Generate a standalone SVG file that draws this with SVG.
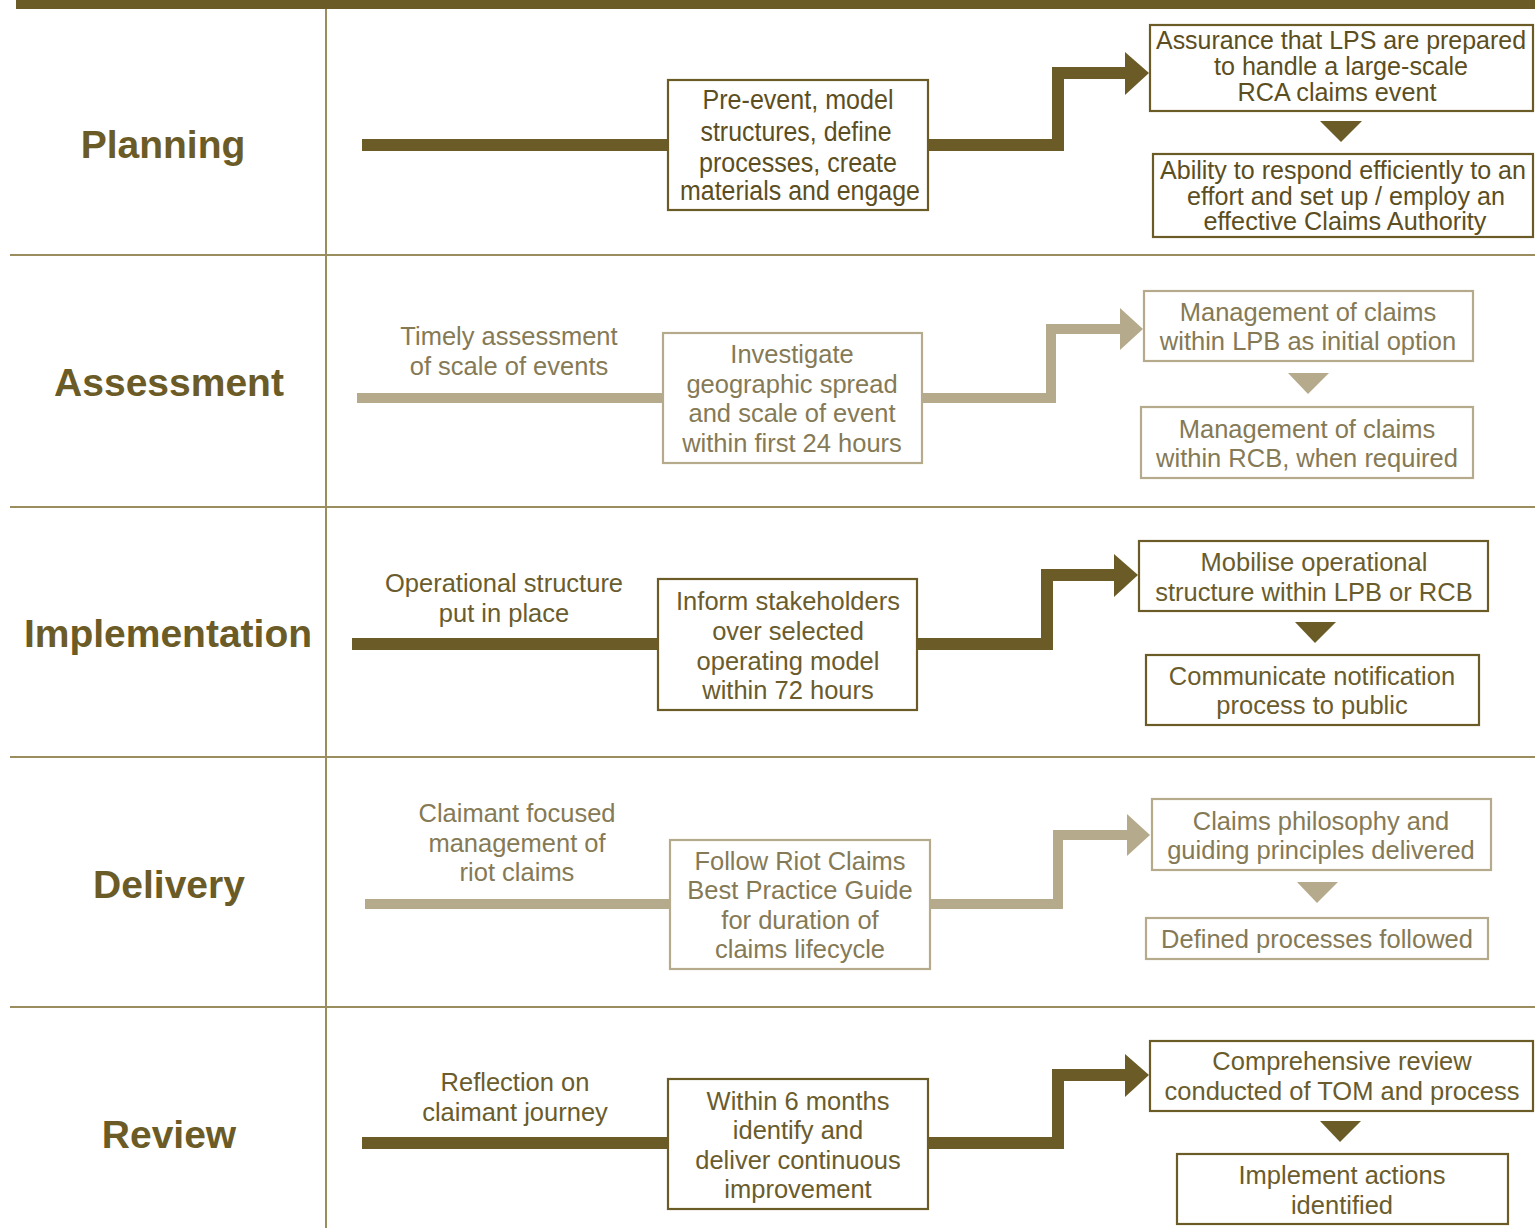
<svg xmlns="http://www.w3.org/2000/svg" width="1535" height="1228" viewBox="0 0 1535 1228">
<style>
.bg{fill:#ffffff}
.rule{stroke:#9a8d5e;stroke-width:2;fill:none}
.lab{font-family:"Liberation Sans",Arial,sans-serif;font-weight:bold;font-size:39px;fill:#6b5b26;text-anchor:middle}
.t{font-family:"Liberation Sans",Arial,sans-serif;font-size:25.5px;text-anchor:middle}
.tn{font-family:"Liberation Sans",Arial,sans-serif;font-size:25px;text-anchor:middle;fill:#5c4e1e}
.tb{font-family:"Liberation Sans",Arial,sans-serif;font-size:27px;text-anchor:middle;fill:#5c4e1e}
.dk{fill:#6a5c2c}
.lt{fill:#857a55}
.bd{fill:#ffffff;stroke:#6b5b26;stroke-width:2.2}
.bl{fill:#ffffff;stroke:#b5ab8c;stroke-width:2.2}
.cd{fill:none;stroke:#6b5b26;stroke-width:12;stroke-linejoin:miter}
.cl{fill:none;stroke:#b5ab8c;stroke-width:10;stroke-linejoin:miter}
.hd{fill:#6b5b26}
.hl{fill:#b5ab8c}
</style>
<rect class="bg" x="0" y="0" width="1535" height="1228"/>
<g id="frame">
<rect x="16" y="0" width="1519" height="9" fill="#6b5b26"/>
<line class="rule" x1="326" y1="9" x2="326" y2="1228"/>
<line class="rule" x1="10" y1="255" x2="1535" y2="255"/>
<line class="rule" x1="10" y1="507" x2="1535" y2="507"/>
<line class="rule" x1="10" y1="757" x2="1535" y2="757"/>
<line class="rule" x1="10" y1="1007" x2="1535" y2="1007"/>
</g>
<g id="row-labels">
<text class="lab" x="163" y="158">Planning</text>
<text class="lab" x="169" y="396">Assessment</text>
<text class="lab" x="168" y="647">Implementation</text>
<text class="lab" x="169" y="898">Delivery</text>
<text class="lab" x="169" y="1148">Review</text>
</g>
<g id="connectors">
<polyline class="cd" points="362,145 668,145"/>
<polyline class="cd" points="928,145 1058,145 1058,73 1127,73"/>
<polygon class="hd" points="1125,52 1149,73 1125,95"/>
<polygon class="hd" points="1320,121 1362,121 1341,142"/>
<polyline class="cl" points="357,398 663,398"/>
<polyline class="cl" points="922,398 1051,398 1051,329 1122,329"/>
<polygon class="hl" points="1120,308 1143,329 1120,350"/>
<polygon class="hl" points="1288,373 1329,373 1308,394"/>
<polyline class="cd" points="352,644 658,644"/>
<polyline class="cd" points="917,644 1047,644 1047,575 1116,575"/>
<polygon class="hd" points="1114,554 1138,575 1114,597"/>
<polygon class="hd" points="1295,622 1336,622 1315,643"/>
<polyline class="cl" points="365,904 670,904"/>
<polyline class="cl" points="930,904 1058,904 1058,835 1129,835"/>
<polygon class="hl" points="1127,814 1150,835 1127,856"/>
<polygon class="hl" points="1297,882 1338,882 1317,903"/>
<polyline class="cd" points="362,1143 668,1143"/>
<polyline class="cd" points="928,1143 1058,1143 1058,1075 1127,1075"/>
<polygon class="hd" points="1125,1054 1149,1075 1125,1097"/>
<polygon class="hd" points="1320,1121 1361,1121 1340,1142"/>
</g>
<g id="planning-main">
<rect class="bd" x="668" y="80" width="260" height="130"/>
<text class="tb" x="798" y="109" textLength="191" lengthAdjust="spacingAndGlyphs">Pre-event, model</text>
<text class="tb" x="796" y="141" textLength="191" lengthAdjust="spacingAndGlyphs">structures, define</text>
<text class="tb" x="798" y="172" textLength="198" lengthAdjust="spacingAndGlyphs">processes, create</text>
<text class="tb" x="800" y="200" textLength="240" lengthAdjust="spacingAndGlyphs">materials and engage</text>
</g>
<g id="planning-out1">
<rect class="bd" x="1150" y="25" width="383" height="86"/>
<text class="tn" x="1341" y="49" textLength="370" lengthAdjust="spacingAndGlyphs">Assurance that LPS are prepared</text>
<text class="tn" x="1341" y="75" textLength="254" lengthAdjust="spacingAndGlyphs">to handle a large-scale</text>
<text class="tn" x="1337" y="101" textLength="199" lengthAdjust="spacingAndGlyphs">RCA claims event</text>
</g>
<g id="planning-out2">
<rect class="bd" x="1153" y="154" width="380" height="83"/>
<text class="tn" x="1343" y="179" textLength="366" lengthAdjust="spacingAndGlyphs">Ability to respond efficiently to an</text>
<text class="tn" x="1346" y="205" textLength="318" lengthAdjust="spacingAndGlyphs">effort and set up / employ an</text>
<text class="tn" x="1345" y="230" textLength="283" lengthAdjust="spacingAndGlyphs">effective Claims Authority</text>
</g>
<g id="assessment-note">
<text class="t lt" x="509" y="345">Timely assessment</text>
<text class="t lt" x="509" y="375">of scale of events</text>
</g>
<g id="assessment-main">
<rect class="bl" x="663" y="333" width="259" height="130"/>
<text class="t lt" x="792" y="363">Investigate</text>
<text class="t lt" x="792" y="393">geographic spread</text>
<text class="t lt" x="792" y="422">and scale of event</text>
<text class="t lt" x="792" y="452">within first 24 hours</text>
</g>
<g id="assessment-out1">
<rect class="bl" x="1144" y="291" width="329" height="70"/>
<text class="t lt" x="1308" y="321">Management of claims</text>
<text class="t lt" x="1308" y="350">within LPB as initial option</text>
</g>
<g id="assessment-out2">
<rect class="bl" x="1141" y="407" width="332" height="71"/>
<text class="t lt" x="1307" y="438">Management of claims</text>
<text class="t lt" x="1307" y="467">within RCB, when required</text>
</g>
<g id="implementation-note">
<text class="t dk" x="504" y="592">Operational structure</text>
<text class="t dk" x="504" y="622">put in place</text>
</g>
<g id="implementation-main">
<rect class="bd" x="658" y="579" width="259" height="131"/>
<text class="t dk" x="788" y="610">Inform stakeholders</text>
<text class="t dk" x="788" y="640">over selected</text>
<text class="t dk" x="788" y="670">operating model</text>
<text class="t dk" x="788" y="699">within 72 hours</text>
</g>
<g id="implementation-out1">
<rect class="bd" x="1139" y="541" width="349" height="70"/>
<text class="t dk" x="1314" y="571">Mobilise operational</text>
<text class="t dk" x="1314" y="601">structure within LPB or RCB</text>
</g>
<g id="implementation-out2">
<rect class="bd" x="1146" y="655" width="333" height="70"/>
<text class="t dk" x="1312" y="685">Communicate notification</text>
<text class="t dk" x="1312" y="714">process to public</text>
</g>
<g id="delivery-note">
<text class="t lt" x="517" y="822">Claimant focused</text>
<text class="t lt" x="517" y="852">management of</text>
<text class="t lt" x="517" y="881">riot claims</text>
</g>
<g id="delivery-main">
<rect class="bl" x="670" y="840" width="260" height="129"/>
<text class="t lt" x="800" y="870">Follow Riot Claims</text>
<text class="t lt" x="800" y="899">Best Practice Guide</text>
<text class="t lt" x="800" y="929">for duration of</text>
<text class="t lt" x="800" y="958">claims lifecycle</text>
</g>
<g id="delivery-out1">
<rect class="bl" x="1152" y="799" width="339" height="71"/>
<text class="t lt" x="1321" y="830">Claims philosophy and</text>
<text class="t lt" x="1321" y="859">guiding principles delivered</text>
</g>
<g id="delivery-out2">
<rect class="bl" x="1146" y="918" width="342" height="41"/>
<text class="t lt" x="1317" y="948">Defined processes followed</text>
</g>
<g id="review-note">
<text class="t dk" x="515" y="1091">Reflection on</text>
<text class="t dk" x="515" y="1121">claimant journey</text>
</g>
<g id="review-main">
<rect class="bd" x="668" y="1079" width="260" height="130"/>
<text class="t dk" x="798" y="1110">Within 6 months</text>
<text class="t dk" x="798" y="1139">identify and</text>
<text class="t dk" x="798" y="1169">deliver continuous</text>
<text class="t dk" x="798" y="1198">improvement</text>
</g>
<g id="review-out1">
<rect class="bd" x="1150" y="1041" width="383" height="70"/>
<text class="t dk" x="1342" y="1070">Comprehensive review</text>
<text class="t dk" x="1342" y="1100">conducted of TOM and process</text>
</g>
<g id="review-out2">
<rect class="bd" x="1177" y="1154" width="331" height="70"/>
<text class="t dk" x="1342" y="1184">Implement actions</text>
<text class="t dk" x="1342" y="1214">identified</text>
</g>
</svg>
